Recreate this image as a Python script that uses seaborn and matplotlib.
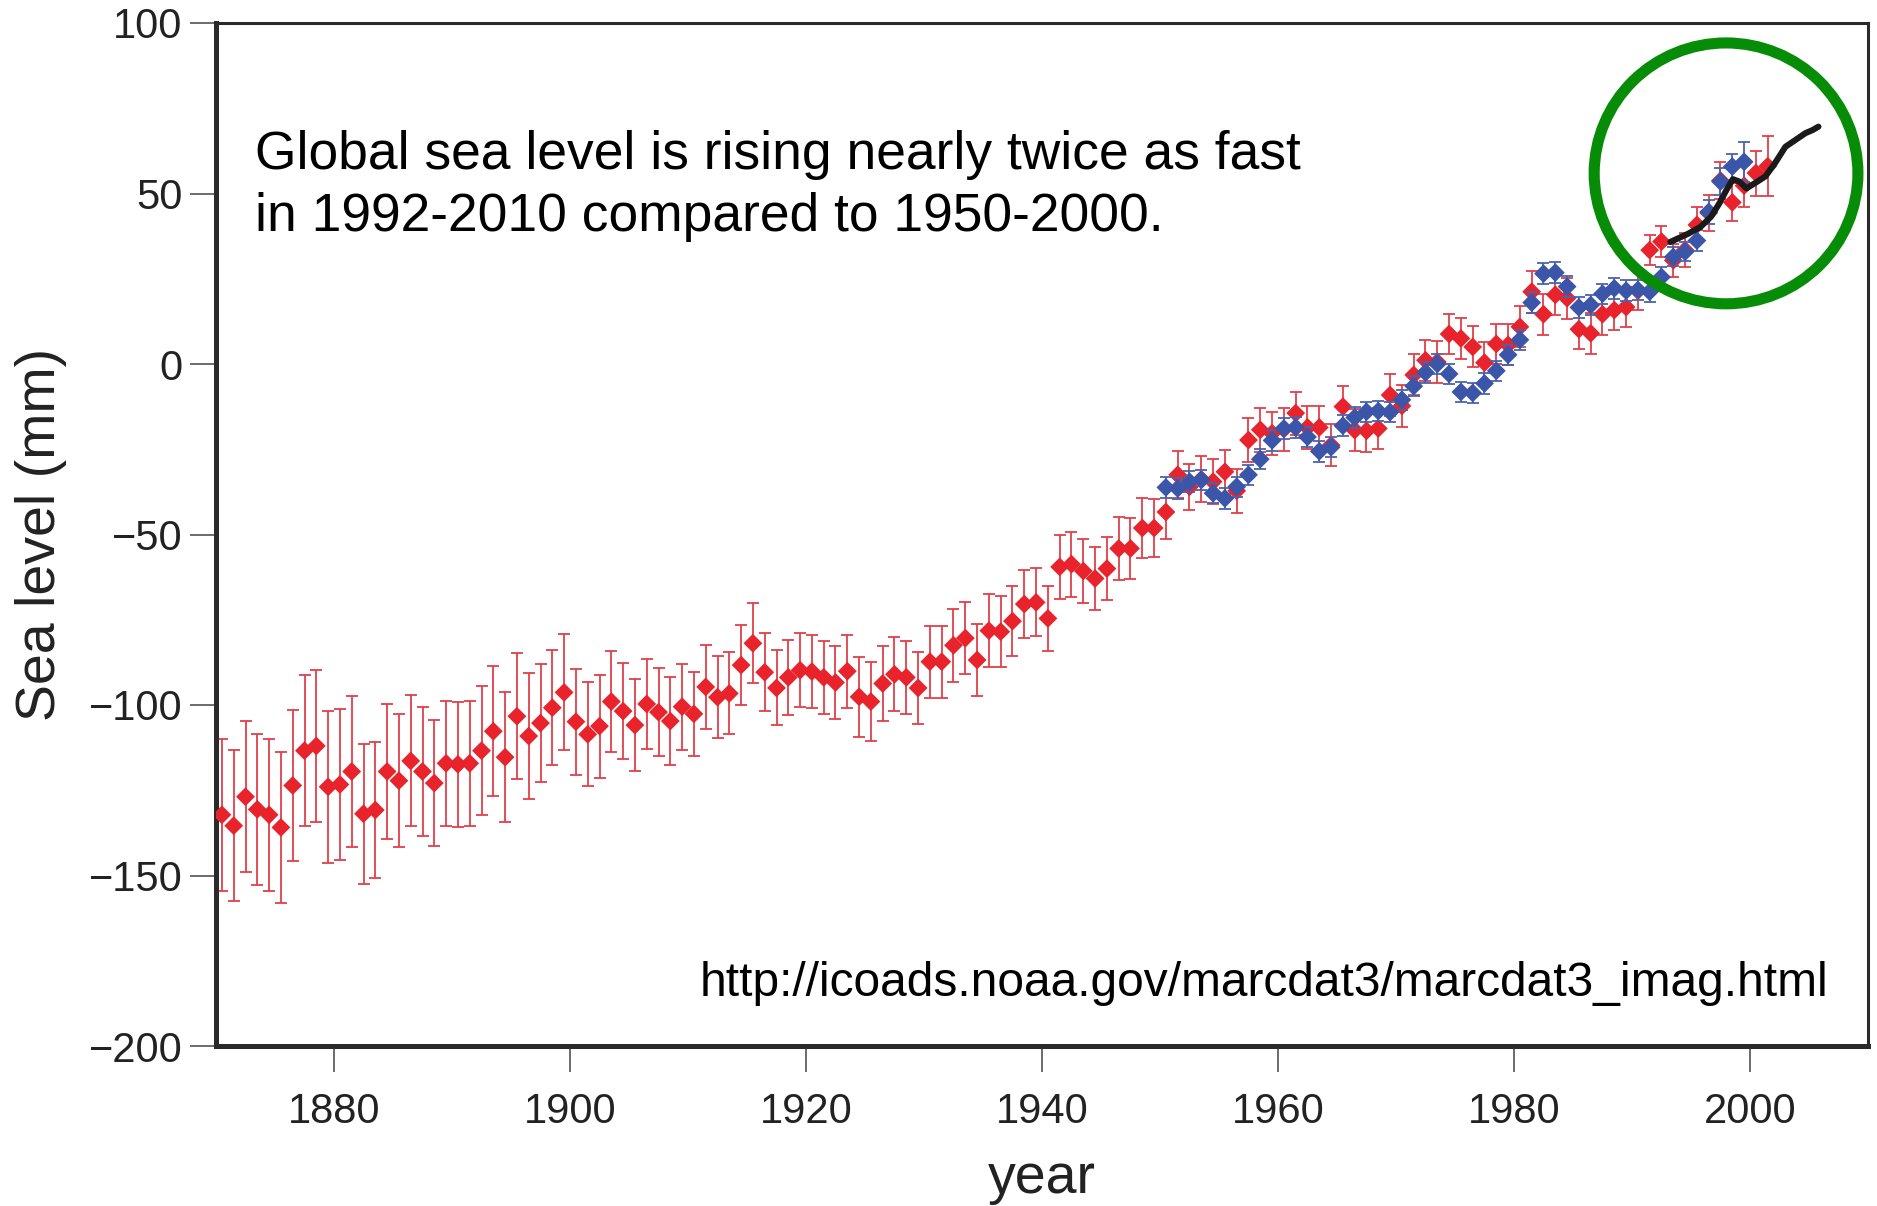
import numpy as np
import pandas as pd
import matplotlib
matplotlib.use("Agg")
import matplotlib.pyplot as plt
from matplotlib.patches import Ellipse
import seaborn as sns

# ---------------- data ----------------
red_years = np.arange(1870.5, 2002.0, 1.0)
red_values = [
    -132.2, -135.4, -126.9, -130.6, -132.2, -135.9, -123.6, -113.4, -112.0, -124.0,
    -123.3, -119.5, -131.9, -130.8, -119.5, -122.2, -116.4, -119.5, -122.9, -117.1,
    -117.4, -117.1, -113.4, -107.7, -115.3, -103.3, -109.1, -105.3, -100.8, -96.3,
    -104.9, -108.6, -106.2, -99.0, -101.8, -105.9, -99.7, -102.1, -104.7, -100.5,
    -102.6, -94.7, -97.7, -96.6, -88.3, -81.9, -90.4, -95.0, -91.9, -89.8,
    -90.2, -91.9, -93.4, -90.1, -97.6, -99.0, -93.7, -91.0, -91.9, -95.0,
    -87.3, -87.3, -82.5, -80.4, -86.8, -78.2, -78.5, -75.4, -70.4, -69.9,
    -74.6, -59.5, -58.7, -60.7, -62.9, -60.0, -54.1, -54.1, -48.1, -48.1,
    -43.4, -32.5, -36.0, -33.8, -34.5, -31.6, -37.2, -22.3, -19.3, -20.3,
    -19.1, -14.4, -18.6, -18.6, -23.8, -12.5, -19.4, -19.6, -18.9, -9.1,
    -12.3, -3.2, 1.1, 0.6, 8.8, 7.5, 5.0, 0.4, 5.9, 5.6,
    10.9, 21.2, 14.6, 20.3, 19.3, 10.2, 9.0, 14.6, 15.8, 16.7,
    21.5, 33.4, 35.9, 30.4, 33.4, 40.8, 44.3, 53.8, 47.4, 52.3,
    56.0, 58.0,
]
red_errors = [
    22.2, 22.2, 22.2, 22.2, 22.2, 22.2, 22.2, 22.2, 22.2, 22.2, 22.2, 22.2,
    20.5, 20.0, 19.8, 19.5, 19.2, 19.0,
    18.5, 18.3, 18.3, 18.3, 19.0, 19.0, 19.0, 18.5,
    18.4, 17.4, 16.9, 17.0,
    15.5, 15.2, 15.1, 14.9,
    14.0, 13.5, 13.3, 13.0, 12.8, 12.6, 12.4,
    12.2, 12.0, 12.0, 11.8, 11.7, 11.4, 11.0, 11.0, 10.8, 10.8, 10.8, 10.7, 10.7, 11.7, 11.6,
    11.0, 10.8, 10.7, 10.6, 10.6, 10.6, 10.7, 10.5, 10.5, 10.7, 10.5, 10.3, 10.0, 10.0, 9.6,
    9.5, 9.5, 9.5, 9.1, 9.2, 9.2, 9.0, 8.7, 8.4, 7.9,
    6.9, 6.8, 6.7, 6.6, 6.5, 6.5, 6.4, 6.4, 6.3, 6.3,
    6.3, 6.3, 6.3, 6.2, 6.1, 6.1, 6.1, 6.1, 6.2, 6.1,
    6.0, 6.0, 6.1, 6.0, 6.1, 6.0, 6.0, 5.9, 6.0, 6.0,
    6.1, 6.0, 6.0, 6.0, 5.9, 6.0, 6.0, 5.9, 5.9, 5.8,
    4.5, 4.6, 4.8, 5.0, 5.2, 5.3, 5.3, 5.6, 6.2, 6.6, 8.8,
]

blue_years = np.arange(1950.5, 2000.0, 1.0)
blue_values = [
    -36.2, -36.5, -34.5, -34.0, -37.9, -39.4, -36.0, -32.5, -27.9, -22.4,
    -18.9, -18.6, -21.4, -25.6, -24.4, -18.1, -15.7, -14.0, -13.8, -14.1,
    -10.5, -6.5, -2.5, 0.0, -2.9, -8.2, -8.5, -5.7, -2.0, 2.7,
    7.1, 18.0, 26.5, 26.8, 22.7, 16.6, 17.3, 20.6, 22.2, 21.5,
    21.7, 21.2, 25.5, 31.4, 32.9, 36.2, 44.6, 53.5, 57.9, 59.3,
]
blue_errors = [
    3.0, 3.0, 3.0, 3.0, 3.0, 3.0, 3.0, 3.0, 3.0, 3.0,
    3.0, 3.0, 3.0, 3.0, 3.0, 3.0, 3.0, 3.0, 3.0, 3.0,
    3.0, 3.0, 3.0, 3.0, 3.0, 3.0, 3.0, 3.0, 3.0, 3.0,
    3.0, 3.0, 3.0, 3.0, 3.0, 3.0, 3.0, 3.0, 3.0, 3.0,
    3.0, 3.0, 3.0, 2.8, 2.8, 3.0, 3.5, 4.0, 3.8, 5.9,
]

sat_years = [1993.25, 1994.7, 1995.8, 1996.7, 1997.4, 1998.0, 1998.55, 1999.1,
             1999.7, 2000.4, 2001.3, 2002.1, 2003.0, 2003.85, 2004.7, 2005.3, 2005.8]
sat_values = [35.8, 38.1, 40.2, 43.2, 47.1, 51.0, 54.2, 53.5,
              51.5, 53.0, 55.0, 58.8, 63.7, 65.7, 67.7, 68.6, 69.6]

x_ticks = [1880, 1900, 1920, 1940, 1960, 1980, 2000]
y_ticks = [-200, -150, -100, -50, 0, 50, 100]

headline_lines = ["Global sea level is rising nearly twice as fast",
                  "in 1992-2010 compared to 1950-2000."]
source_text = "http://icoads.noaa.gov/marcdat3/marcdat3_imag.html"

# ---------------- style ----------------
sns.set_theme(style="ticks")
plt.rcParams["font.family"] = ["Liberation Sans", "DejaVu Sans"]

RED = "#e8232c"
RED_BAR = "#e0404a"
BLUE = "#3b56a8"
BLUE_BAR = "#4a63b0"
DARK = "#2a2a2a"

red_df = pd.DataFrame({"year": red_years, "level": red_values, "err": red_errors})
blue_df = pd.DataFrame({"year": blue_years, "level": blue_values, "err": blue_errors})
sat_df = pd.DataFrame({"year": sat_years, "level": sat_values})

W, H = 1877, 1206
fig = plt.figure(figsize=(W / 100, H / 100), dpi=100)
ax = fig.add_axes([216 / W, 1 - 1046 / H, 1652 / W, 1023 / H])

# red series
ax.errorbar(red_df["year"], red_df["level"], yerr=red_df["err"], fmt="none",
            ecolor=RED_BAR, elinewidth=1.3, capsize=4, capthick=1.3, zorder=2)
sns.scatterplot(data=red_df, x="year", y="level", marker="D", s=92, color=RED,
                edgecolor="none", linewidth=0, ax=ax, zorder=3, legend=False)

# blue series
ax.errorbar(blue_df["year"], blue_df["level"], yerr=blue_df["err"], fmt="none",
            ecolor=BLUE_BAR, elinewidth=1.3, capsize=4, capthick=1.3, zorder=4)
sns.scatterplot(data=blue_df, x="year", y="level", marker="D", s=92, color=BLUE,
                edgecolor="none", linewidth=0, ax=ax, zorder=5, legend=False)

# satellite line
sns.lineplot(data=sat_df, x="year", y="level", color="#1a1a1a", linewidth=4.4,
             ax=ax, zorder=6, legend=False)

# green highlight circle
ax.add_patch(Ellipse((1997.97, 55.9), width=22.35, height=76.5, fill=False,
                     edgecolor="#078c07", linewidth=8, zorder=7, clip_on=False))

ax.set_xlim(1870, 2010)
ax.set_ylim(-200, 100)
ax.set_xticks(x_ticks)
ax.set_yticks(y_ticks)
ax.set_xlabel("year", fontsize=40, labelpad=15, color="#222222")
ax.set_ylabel("Sea level (mm)", fontsize=40, labelpad=16, color="#222222")

ax.tick_params(axis="both", direction="out", length=19, width=1.1,
               color="#444444", labelsize=30, labelcolor="#222222")
ax.tick_params(axis="x", pad=14)
ax.tick_params(axis="y", pad=5)

for side in ["left", "bottom"]:
    ax.spines[side].set_linewidth(3.6)
    ax.spines[side].set_color(DARK)
for side in ["top", "right"]:
    ax.spines[side].set_visible(True)
    ax.spines[side].set_linewidth(2.2)
    ax.spines[side].set_color(DARK)

ax.text(0.0236, 0.857, headline_lines[0], transform=ax.transAxes, fontsize=38.4,
        ha="left", va="baseline", color="black")
ax.text(0.0236, 0.797, headline_lines[1], transform=ax.transAxes, fontsize=38.4,
        ha="left", va="baseline", color="black")
ax.text(0.976, 0.049, source_text, transform=ax.transAxes, fontsize=34.5,
        ha="right", va="baseline", color="black")

fig.savefig("out.png", dpi=100, facecolor="white")
